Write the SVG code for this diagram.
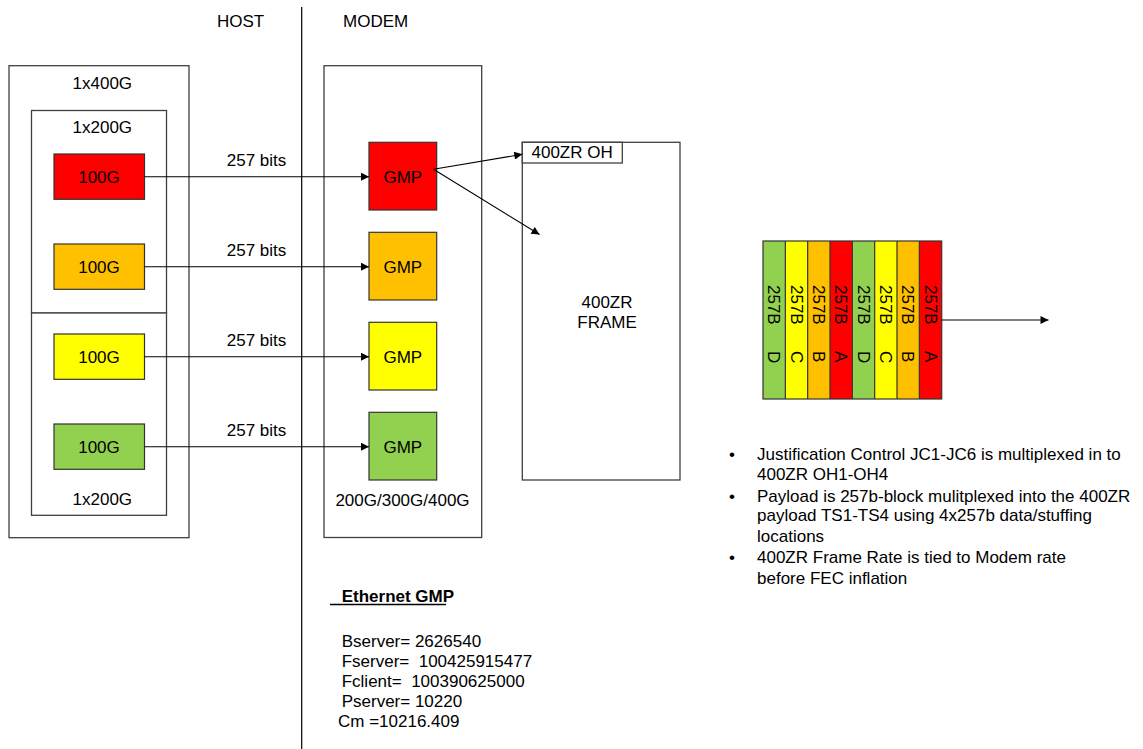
<svg xmlns="http://www.w3.org/2000/svg" width="1143" height="749" viewBox="0 0 1143 749">
<defs>
<marker id="ah" viewBox="0 0 10 10" refX="10" refY="5" markerWidth="9" markerHeight="8" markerUnits="userSpaceOnUse" orient="auto"><path d="M0,0 L10,5 L0,10 Z" fill="#000"/></marker>
<style>
text{font-family:"Liberation Sans",Arial,sans-serif;font-size:17px;fill:#000}
.c{text-anchor:middle}
.box{fill:#fff;stroke:#404040;stroke-width:1.3}
.cb{stroke:#333;stroke-width:1.2}
.con{stroke:#000;stroke-width:1.1;fill:none;marker-end:url(#ah)}
.red{fill:#FF0000}.org{fill:#FFC000}.yel{fill:#FFFF00}.grn{fill:#92D050}
</style>
</defs>
<rect width="1143" height="749" fill="#fff"/>

<g id="divider"><line x1="301.7" y1="7" x2="301.7" y2="749" stroke="#000" stroke-width="1.2"/></g>
<g id="labels-top">
<text x="217" y="27">HOST</text>
<text x="343" y="27">MODEM</text>
</g>

<g id="host">
<rect class="box" x="9" y="65.7" width="180" height="472"/>
<text class="c" x="102.3" y="89.3">1x400G</text>
</g>
<g id="host-200g-a">
<rect class="box" x="31.5" y="110.5" width="135" height="202.5" stroke="#000"/>
<text class="c" x="102.3" y="133.3">1x200G</text>
</g>
<g id="host-200g-b">
<rect class="box" x="31.5" y="313" width="135" height="202.3" stroke="#000"/>
<text class="c" x="102.3" y="505">1x200G</text>
</g>
<g id="h1"><rect class="cb red" x="54" y="154" width="90.5" height="45.3"/><text class="c" x="99" y="182.5">100G</text></g>
<g id="h2"><rect class="cb org" x="54" y="244" width="90.5" height="45.3"/><text class="c" x="99" y="272.5">100G</text></g>
<g id="h3"><rect class="cb yel" x="54" y="334" width="90.5" height="45.3"/><text class="c" x="99" y="362.5">100G</text></g>
<g id="h4"><rect class="cb grn" x="54" y="424" width="90.5" height="45.3"/><text class="c" x="99" y="452.5">100G</text></g>

<g id="modem">
<rect class="box" x="324" y="65.7" width="157.7" height="471.8"/>
<text class="c" x="402.5" y="506">200G/300G/400G</text>
</g>
<g id="g1"><rect class="cb red" x="369" y="142.3" width="67.7" height="67.7"/><text class="c" x="402.8" y="182.5">GMP</text></g>
<g id="g2"><rect class="cb org" x="369" y="232.3" width="67.7" height="67.7"/><text class="c" x="402.8" y="272.5">GMP</text></g>
<g id="g3"><rect class="cb yel" x="369" y="322.3" width="67.7" height="67.7"/><text class="c" x="402.8" y="362.5">GMP</text></g>
<g id="g4"><rect class="cb grn" x="369" y="412.3" width="67.7" height="67.7"/><text class="c" x="402.8" y="452.5">GMP</text></g>

<g id="frame">
<rect class="box" x="522.3" y="142.3" width="157.7" height="337.7" stroke="#000"/>
<text class="c" x="607" y="307.5">400ZR</text>
<text class="c" x="607" y="328">FRAME</text>
</g>
<g id="oh">
<rect class="box" x="522.3" y="142.3" width="100" height="20.7" stroke="#000"/>
<text x="531.5" y="157.5">400ZR OH</text>
</g>

<g id="stream">
<rect class="grn" x="763" y="241" width="22.33" height="158"/>
<rect class="yel" x="785.33" y="241" width="22.33" height="158"/>
<rect class="org" x="807.67" y="241" width="22.33" height="158"/>
<rect class="red" x="830" y="241" width="22.33" height="158"/>
<rect class="grn" x="852.33" y="241" width="22.33" height="158"/>
<rect class="yel" x="874.67" y="241" width="22.33" height="158"/>
<rect class="org" x="897" y="241" width="22.33" height="158"/>
<rect class="red" x="919.33" y="241" width="22.33" height="158"/>
<g fill="none" stroke="#333" stroke-width="1.2">
<rect x="763" y="241" width="178.7" height="158"/>
<path d="M785.33,241V399M807.67,241V399M830,241V399M852.33,241V399M874.67,241V399M897,241V399M919.33,241V399"/>
</g>
<text transform="translate(768.2,285) rotate(90)">257B<tspan x="66">D</tspan></text>
<text transform="translate(790.5,285) rotate(90)">257B<tspan x="66">C</tspan></text>
<text transform="translate(812.8,285) rotate(90)">257B<tspan x="66">B</tspan></text>
<text transform="translate(835.2,285) rotate(90)">257B<tspan x="66">A</tspan></text>
<text transform="translate(857.5,285) rotate(90)">257B<tspan x="66">D</tspan></text>
<text transform="translate(879.8,285) rotate(90)">257B<tspan x="66">C</tspan></text>
<text transform="translate(902.2,285) rotate(90)">257B<tspan x="66">B</tspan></text>
<text transform="translate(924.5,285) rotate(90)">257B<tspan x="66">A</tspan></text>
</g>

<g id="connectors">
<line class="con" x1="144.5" y1="176.7" x2="369" y2="176.7"/>
<line class="con" x1="144.5" y1="266.7" x2="369" y2="266.7"/>
<line class="con" x1="144.5" y1="356.7" x2="369" y2="356.7"/>
<line class="con" x1="144.5" y1="446.7" x2="369" y2="446.7"/>
<line class="con" x1="433.5" y1="169.3" x2="522.3" y2="154.3"/>
<line class="con" x1="433.5" y1="169.3" x2="539.5" y2="234.5"/>
<line class="con" x1="941.7" y1="320" x2="1048.5" y2="320"/>
<text class="c" x="256.5" y="165.5">257 bits</text>
<text class="c" x="256.5" y="255.5">257 bits</text>
<text class="c" x="256.5" y="345.5">257 bits</text>
<text class="c" x="256.5" y="435.5">257 bits</text>
</g>

<g id="notes">
<text x="729" y="460">•</text><text x="757" y="460">Justification Control JC1-JC6 is multiplexed in to</text>
<text x="757" y="480">400ZR OH1-OH4</text>
<text x="729" y="501.5">•</text><text x="757" y="501.5">Payload is 257b-block mulitplexed into the 400ZR</text>
<text x="757" y="521">payload TS1-TS4 using 4x257b data/stuffing</text>
<text x="757" y="541.5">locations</text>
<text x="729" y="563">•</text><text x="757" y="563">400ZR Frame Rate is tied to Modem rate</text>
<text x="757" y="584">before FEC inflation</text>
</g>

<g id="gmp-params">
<text x="341.7" y="601.7" font-weight="bold">Ethernet GMP</text>
<line x1="330" y1="604.5" x2="446" y2="604.5" stroke="#000" stroke-width="1.3"/>
<text x="341.7" y="646.5">Bserver= 2626540</text>
<text x="341.7" y="666.5">Fserver=&#160; 100425915477</text>
<text x="341.7" y="686.5">Fclient=&#160; 100390625000</text>
<text x="341.7" y="707">Pserver= 10220</text>
<text x="338" y="727">Cm =10216.409</text>
</g>
</svg>
